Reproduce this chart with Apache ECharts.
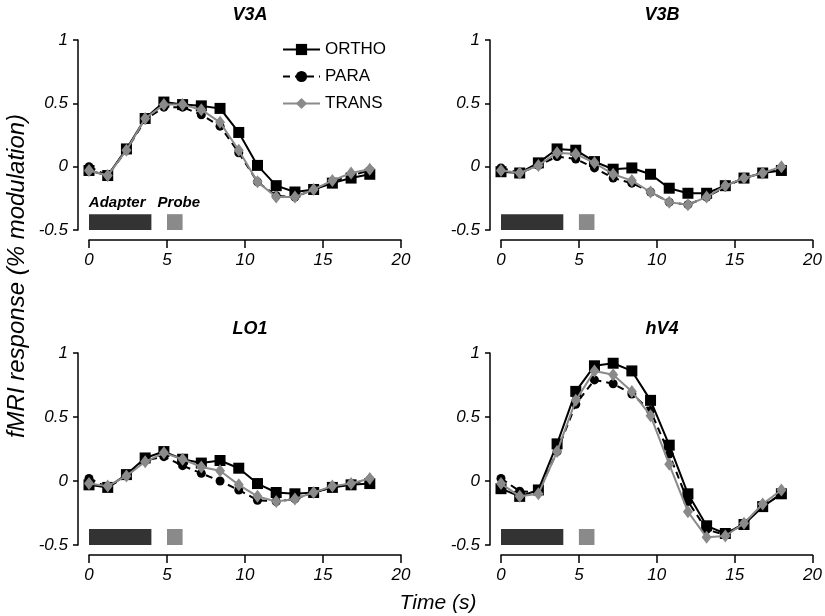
<!DOCTYPE html>
<html><head><meta charset="utf-8">
<script src="https://cdn.jsdelivr.net/npm/echarts@6/dist/echarts.min.js"></script>
<style>html,body{margin:0;padding:0;background:#fff}#c{width:825px;height:616px}</style>
</head><body><div id="c"></div>
<script>
// ---- data ----
const timePoints = [0, 1.2, 2.4, 3.6, 4.8, 6.0, 7.2, 8.4, 9.6, 10.8, 12.0, 13.2, 14.4, 15.6, 16.8, 18.0];
const panelTitles = ['V3A', 'V3B', 'LO1', 'hV4'];
const seriesNames = ['ORTHO', 'PARA', 'TRANS'];

const v3aOrtho = [-0.03, -0.07, 0.14, 0.38, 0.51, 0.49, 0.48, 0.46, 0.27, 0.01, -0.15, -0.20, -0.18, -0.13, -0.09, -0.06];
const v3aPara  = [0.00, -0.07, 0.13, 0.37, 0.47, 0.47, 0.41, 0.32, 0.11, -0.12, -0.23, -0.24, -0.18, -0.12, -0.07, -0.03];
const v3aTrans = [-0.03, -0.07, 0.13, 0.38, 0.49, 0.49, 0.45, 0.35, 0.13, -0.12, -0.24, -0.24, -0.18, -0.11, -0.05, -0.02];

const v3bOrtho = [-0.04, -0.05, 0.03, 0.14, 0.13, 0.04, -0.02, -0.01, -0.06, -0.17, -0.21, -0.21, -0.15, -0.09, -0.05, -0.03];
const v3bPara  = [-0.01, -0.05, 0.01, 0.08, 0.06, -0.01, -0.09, -0.13, -0.20, -0.28, -0.30, -0.24, -0.16, -0.09, -0.05, -0.02];
const v3bTrans = [-0.03, -0.05, 0.01, 0.11, 0.10, 0.03, -0.06, -0.11, -0.20, -0.28, -0.30, -0.24, -0.15, -0.09, -0.05, 0.00];

const lo1Ortho = [-0.03, -0.05, 0.05, 0.18, 0.23, 0.17, 0.14, 0.16, 0.10, -0.02, -0.09, -0.10, -0.09, -0.05, -0.03, -0.02];
const lo1Para  = [0.02, -0.05, 0.04, 0.16, 0.19, 0.12, 0.06, 0.00, -0.07, -0.15, -0.16, -0.14, -0.09, -0.05, -0.02, 0.01];
const lo1Trans = [-0.02, -0.04, 0.04, 0.15, 0.22, 0.17, 0.11, 0.08, -0.03, -0.12, -0.16, -0.14, -0.09, -0.04, -0.02, 0.02];

const hv4Ortho = [-0.06, -0.12, -0.07, 0.29, 0.70, 0.90, 0.92, 0.86, 0.63, 0.28, -0.10, -0.35, -0.41, -0.34, -0.20, -0.10];
const hv4Para  = [0.02, -0.08, -0.09, 0.23, 0.60, 0.79, 0.76, 0.68, 0.55, 0.21, -0.16, -0.38, -0.42, -0.33, -0.20, -0.10];
const hv4Trans = [-0.02, -0.12, -0.10, 0.23, 0.63, 0.86, 0.83, 0.70, 0.51, 0.13, -0.24, -0.44, -0.43, -0.33, -0.18, -0.07];

const panelData = [
  [v3aOrtho, v3aPara, v3aTrans],
  [v3bOrtho, v3bPara, v3bTrans],
  [lo1Ortho, lo1Para, lo1Trans],
  [hv4Ortho, hv4Para, hv4Trans]
];

const stimNames = ['Adapter', 'Probe'];
const stimStart = [0, 5];
const stimEnd = [4, 6];
const stimBand = [-0.5, -0.375];

const yTickMin = -0.5, yTickMax = 1, yTickStep = 0.5;
const xTickMin = 0, xTickMax = 20, xTickStep = 5;

// ---- layout/styles ----
const FONT = 'Liberation Sans, Arial, sans-serif';
const grids = [
  {left: 89, top: 40, width: 312, height: 190},
  {left: 501, top: 40, width: 312, height: 190},
  {left: 89, top: 353, width: 312, height: 192},
  {left: 501, top: 353, width: 312, height: 192}
];
const titleTops = [1, 1, 315, 315];
const seriesStyles = [
  {color: '#000', symbol: 'rect', symbolSize: 11, lineType: 'solid'},
  {color: '#000', symbol: 'circle', symbolSize: 9, lineType: [7, 5]},
  {color: '#8a8a8a', symbol: 'diamond', symbolSize: [10, 13], lineType: 'solid'}
];
const stimColors = ['#333333', '#8a8a8a'];
const stimLabelOffsets = [[-3, 0], [4, 0]];

const option = {
  animation: false,
  backgroundColor: '#fff',
  title: panelTitles.map((t, i) => ({
    text: t,
    left: grids[i].left + grids[i].width / 2,
    textAlign: 'center',
    top: titleTops[i],
    textStyle: {fontFamily: FONT, fontSize: 18, fontWeight: 'bold', fontStyle: 'italic', color: '#000'}
  })),
  legend: {
    data: seriesNames,
    orient: 'vertical',
    left: 282,
    top: 41,
    padding: 0,
    itemWidth: 37,
    itemHeight: 14,
    itemGap: 10,
    textStyle: {fontFamily: FONT, fontSize: 17, color: '#000'},
    itemStyle: {borderWidth: 0}
  },
  grid: grids.map(g => Object.assign({containLabel: false}, g)),
  xAxis: grids.map((g, i) => ({
    gridIndex: i,
    type: 'value',
    min: xTickMin, max: xTickMax, interval: xTickStep,
    offset: 10,
    axisLine: {show: true, onZero: false, lineStyle: {color: '#000', width: 1.5}},
    axisTick: {show: true, length: 8, lineStyle: {color: '#000', width: 1.5}},
    axisLabel: {margin: 12, fontFamily: FONT, fontStyle: 'italic', fontSize: 17, color: '#000'},
    splitLine: {show: false}
  })),
  yAxis: grids.map((g, i) => ({
    gridIndex: i,
    type: 'value',
    min: yTickMin, max: yTickMax, interval: yTickStep,
    offset: 11,
    axisLine: {show: true, onZero: false, lineStyle: {color: '#000', width: 1.5}},
    axisTick: {show: true, length: 5, lineStyle: {color: '#000', width: 1.5}},
    axisLabel: {margin: 10, fontFamily: FONT, fontStyle: 'italic', fontSize: 17, color: '#000'},
    splitLine: {show: false}
  })),
  graphic: [
    {type: 'text', rotation: Math.PI / 2, x: 5, y: 276,
     style: {text: 'fMRI response (% modulation)', font: 'italic 24px ' + FONT, fill: '#000',
             textAlign: 'center', textVerticalAlign: 'top'}},
    {type: 'text', x: 438, y: 603,
     style: {text: 'Time (s)', font: 'italic 21px ' + FONT, fill: '#000', textAlign: 'center', textVerticalAlign: 'middle'}}
  ],
  series: []
};

panelData.forEach((panel, p) => {
  panel.forEach((vals, s) => {
    const st = seriesStyles[s];
    const ser = {
      name: seriesNames[s],
      type: 'line',
      xAxisIndex: p, yAxisIndex: p,
      data: timePoints.map((t, k) => [t, vals[k]]),
      symbol: st.symbol,
      symbolSize: st.symbolSize,
      showSymbol: true,
      lineStyle: {color: st.color, width: 2, type: st.lineType},
      itemStyle: {color: st.color, borderWidth: 0},
      z: 3 + s
    };
    if (s === 0) {
      ser.markArea = {
        silent: true,
        z: 1,
        data: stimNames.map((nm, k) => [
          {name: nm, xAxis: stimStart[k], yAxis: stimBand[1],
           itemStyle: {color: stimColors[k], opacity: 1},
           label: {show: p === 0, position: 'top', distance: 4, offset: stimLabelOffsets[k],
                   fontFamily: FONT, fontSize: 15, fontWeight: 'bold', fontStyle: 'italic', color: '#000'}},
          {xAxis: stimEnd[k], yAxis: stimBand[0]}
        ])
      };
    }
    option.series.push(ser);
  });
});

const chart = echarts.init(document.getElementById('c'), null, {renderer: 'canvas'});
chart.setOption(option);
</script>
</body></html>
